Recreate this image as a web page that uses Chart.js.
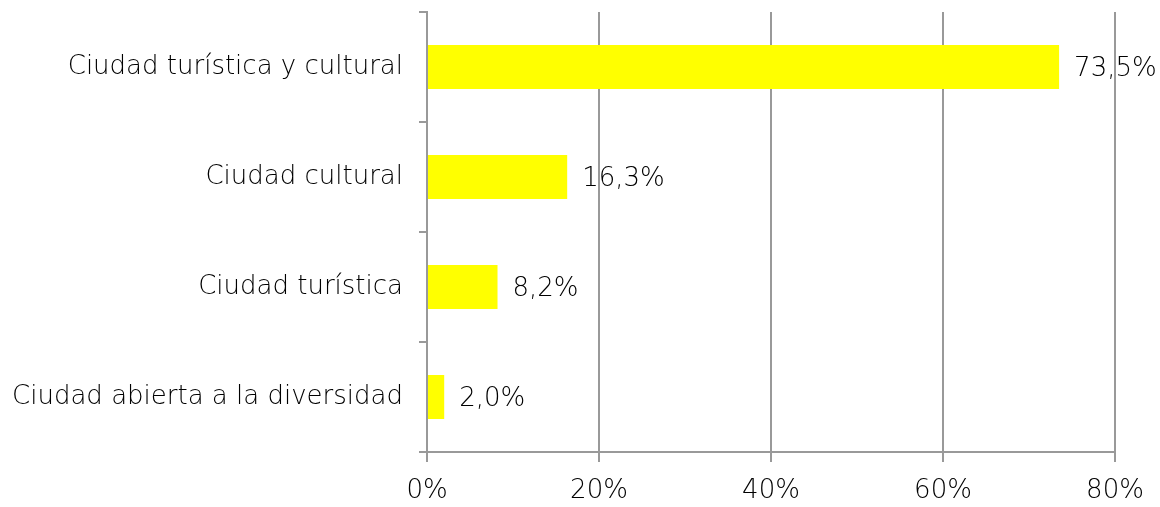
<!DOCTYPE html>
<html>
<head>
<meta charset="utf-8">
<script src="https://cdn.jsdelivr.net/npm/chart.js@4"></script>
<style>
  html, body { margin: 0; padding: 0; background: #fff; }
  #wrap { width: 1160px; height: 507px; }
</style>
</head>
<body>
<div id="wrap"><canvas id="chart"></canvas></div>
<script>
const categories = ['Ciudad turística y cultural', 'Ciudad cultural', 'Ciudad turística', 'Ciudad abierta a la diversidad'];
const shares = [73.5, 16.3, 8.2, 2.0];
const xTicks = [0, 20, 40, 60, 80];

const gridGray = '#999999';
const textColor = '#000000';
const fontFamily = "'DejaVu Sans', sans-serif";
const fontSize = 26;
const fontWeight = 200;

// draws the "73,5%" style labels at the end of each bar
const valueLabels = {
    id: 'valueLabels',
    afterDatasetsDraw(chart) {
        const ctx = chart.ctx;
        const meta = chart.getDatasetMeta(0);
        ctx.save();
        ctx.font = `${fontWeight} ${fontSize}px ${fontFamily}`;
        ctx.fillStyle = textColor;
        ctx.textAlign = 'left';
        ctx.textBaseline = 'middle';
        meta.data.forEach((bar, i) => {
            const txt = shares[i].toFixed(1).replace('.', ',') + '%';
            ctx.fillText(txt, bar.x + 15, bar.y + 2);
        });
        ctx.restore();
    }
};

new Chart(document.getElementById('chart').getContext('2d'), {
    type: 'bar',
    data: {
        labels: categories,
        datasets: [{
            data: shares,
            backgroundColor: '#ffff00',
            borderWidth: 0,
            barPercentage: 0.8,
            categoryPercentage: 0.5
        }]
    },
    options: {
        indexAxis: 'y',
        responsive: true,
        maintainAspectRatio: false,
        animation: false,
        layout: { padding: { top: 12, right: 45, left: 0, bottom: 0 } },
        plugins: {
            legend: { display: false },
            tooltip: { enabled: false }
        },
        scales: {
            x: {
                min: 0,
                max: 80,
                afterBuildTicks: scale => { scale.ticks = xTicks.map(v => ({ value: v })); },
                afterFit: scale => { scale.height = 55; },
                grid: { color: gridGray, lineWidth: 2, tickLength: 10 },
                border: { color: gridGray, width: 2 },
                ticks: {
                    color: textColor,
                    padding: 14,
                    font: { family: fontFamily, size: fontSize, weight: fontWeight },
                    callback: v => v + '%'
                }
            },
            y: {
                afterFit: scale => { scale.width = 427; scale.paddingTop = 0; scale.paddingBottom = 0; },
                grid: { offset: true, drawOnChartArea: false, color: gridGray, lineWidth: 2, tickLength: 8 },
                border: { color: gridGray, width: 2 },
                ticks: {
                    color: textColor,
                    padding: 16,
                    font: { family: fontFamily, size: fontSize, weight: fontWeight }
                }
            }
        }
    },
    plugins: [valueLabels]
});
</script>
</body>
</html>
